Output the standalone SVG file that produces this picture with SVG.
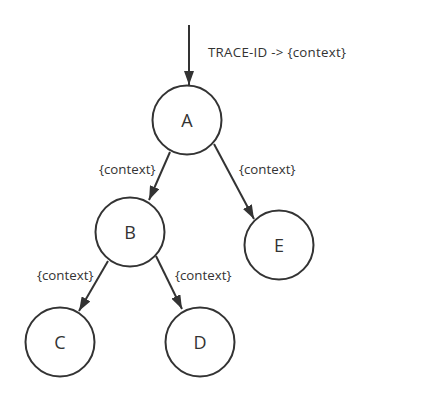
<svg xmlns="http://www.w3.org/2000/svg" width="429" height="402" viewBox="0 0 429 402">
<style>
.n{fill:#fff;stroke:#333;stroke-width:2}
.t{font-family:"Open Sans","Noto Sans",sans-serif;font-size:18px;fill:#333;text-anchor:middle}
.l{font-family:"Open Sans","Noto Sans",sans-serif;font-size:13.3px;fill:#333}
.e{stroke:#333;stroke-width:2;fill:none;marker-end:url(#ah)}
</style>
<defs>
<marker id="ah" viewBox="0 0 14 10" refX="14" refY="5" markerWidth="7" markerHeight="5" orient="auto" markerUnits="strokeWidth">
<path d="M0,0 L14,5 L0,10 z" fill="#333"/>
</marker>
</defs>
<rect width="429" height="402" fill="#fff"/>
<g id="connectors">
<line class="e" x1="189" y1="25" x2="189" y2="85"/>
<line class="e" x1="170" y1="152" x2="149" y2="200"/>
<line class="e" x1="214" y1="144" x2="254" y2="219"/>
<line class="e" x1="108" y1="261" x2="79" y2="311"/>
<line class="e" x1="156" y1="256" x2="182" y2="309"/>
<text class="l" x="208" y="57" textLength="138">TRACE-ID -&gt; {context}</text>
<text class="l" x="99" y="174">{context}</text>
<text class="l" x="239" y="174">{context}</text>
<text class="l" x="37" y="280">{context}</text>
<text class="l" x="175" y="280">{context}</text>
</g>
<g id="A"><circle class="n" cx="187" cy="120" r="34.5"/><text class="t" x="187" y="127">A</text></g>
<g id="B"><circle class="n" cx="130" cy="232" r="34.5"/><text class="t" x="130" y="239">B</text></g>
<g id="E"><circle class="n" cx="279" cy="245" r="34.5"/><text class="t" x="279" y="252">E</text></g>
<g id="C"><circle class="n" cx="60" cy="342" r="34.5"/><text class="t" x="60" y="349">C</text></g>
<g id="D"><circle class="n" cx="200" cy="342" r="34.5"/><text class="t" x="200" y="349">D</text></g>
</svg>
